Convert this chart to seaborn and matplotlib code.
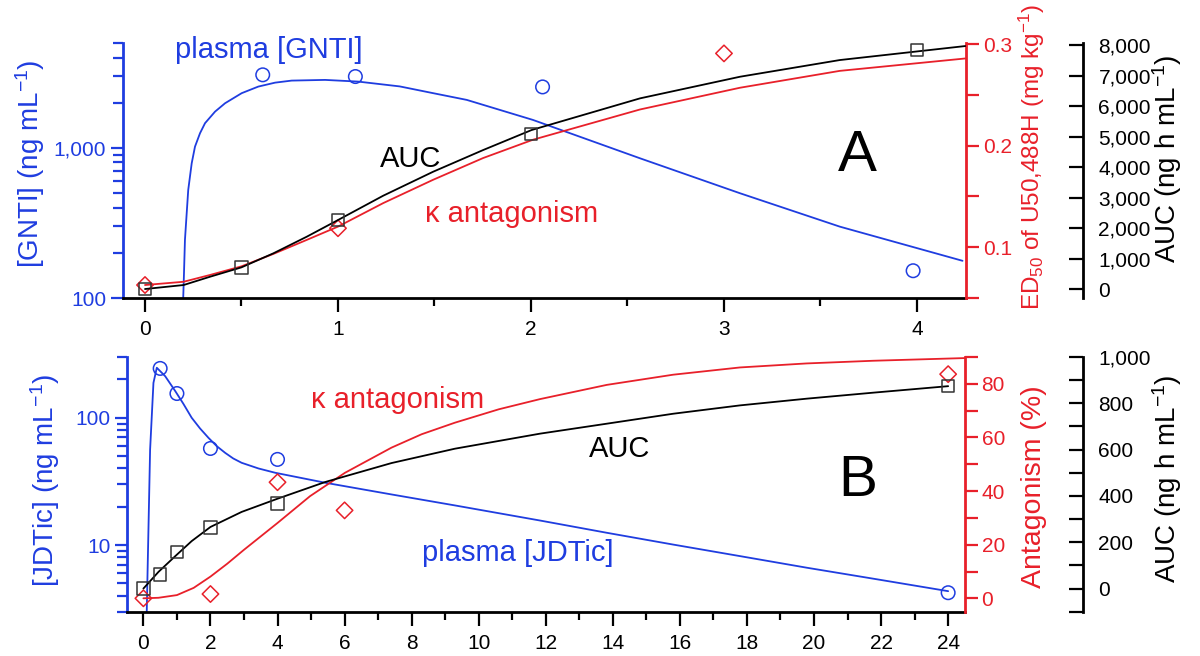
"""Plasma level, AUC and kappa antagonism time courses for GNTI (A) and JDTic (B)"""

import seaborn as sns
import matplotlib.pyplot as plt
from matplotlib.ticker import FixedLocator, FuncFormatter, NullFormatter

BLUE = "#1f3de0"
RED = "#e8202a"
BLACK = "#000000"

# ---- Panel A: GNTI (time in h) ----
gnti_fit_t = [0.198, 0.202, 0.207, 0.216, 0.224, 0.242, 0.259, 0.285, 0.311, 0.363, 0.415, 0.501,
              0.587, 0.674, 0.76, 0.933, 1.105, 1.32, 1.493, 1.667, 2.01, 2.565, 3.083, 3.6, 4.236]
gnti_fit_c = [100, 146, 244, 367, 525, 791, 1020, 1253, 1462, 1746, 1986, 2317,
              2563, 2723, 2810, 2840, 2767, 2570, 2317, 2090, 1537, 853, 499, 299, 177]
gnti_obs_t = [0.61, 1.09, 2.06, 3.98]
gnti_obs_c = [3070, 2990, 2550, 152]

auc_a_fit_t = [0, 0.2, 0.337, 0.5, 0.665, 0.838, 1.0, 1.234, 1.493, 1.752, 2.003, 2.565, 3.083, 3.6, 4.25]
auc_a_fit = [0, 131, 403, 711, 1170, 1715, 2262, 3059, 3846, 4557, 5213, 6252, 6961, 7508, 7967]
auc_a_obs_t = [0, 0.5, 1, 2, 4]
auc_a_obs = [0, 711, 2270, 5082, 7836]

ed50_fit_t = [0, 0.2, 0.337, 0.5, 0.665, 0.838, 1.0, 1.234, 1.493, 1.752, 2.01, 2.565, 3.083, 3.6, 4.25]
ed50_fit = [0.0628, 0.066, 0.0727, 0.0812, 0.0934, 0.1072, 0.1203, 0.1434, 0.1664, 0.1878,
            0.2058, 0.2356, 0.257, 0.2736, 0.2858]
ed50_obs_t = [0, 1, 3]
ed50_obs = [0.0628, 0.1187, 0.2908]

# ---- Panel B: JDTic (time in h) ----
jdtic_fit_t = [0.1, 0.2, 0.3, 0.4, 0.65, 0.95, 1.19, 1.44, 1.69, 1.94, 2.19, 2.44, 2.68, 2.93, 3.43,
               3.93, 5.42, 7.4, 9.29, 11.83, 13.82, 15.8, 17.79, 19.78, 21.77, 24.0]
jdtic_fit_c = [3.0, 56, 188, 247, 212, 162, 129, 100, 82.4, 69.6, 59.8, 53, 47.9, 44.3, 40,
               37, 30.9, 25, 20.5, 15.6, 12.5, 10.1, 8.2, 6.65, 5.45, 4.35]
jdtic_obs_t = [0.5, 1, 2, 4, 24]
jdtic_obs_c = [244, 155, 57.4, 47.1, 4.23]

auc_b_fit_t = [0, 0.45, 0.95, 1.44, 2, 2.93, 4, 5.42, 7.4, 9.29, 11.83, 13.82, 15.8, 17.79, 19.78, 21.77, 24]
auc_b_fit = [0, 72, 140, 205, 266, 331, 388, 460, 542, 604, 669, 712, 755, 791, 820, 846, 874]
auc_b_obs_t = [0, 0.5, 1, 2, 4, 24]
auc_b_obs = [0, 60, 158, 263, 367, 874]

antag_fit_t = [0, 0.45, 1, 1.5, 2, 2.5, 3, 4, 4.97, 6.01, 7.4, 8.3, 9.29, 10.6, 11.83, 13.82, 15.8,
               17.79, 19.78, 21.77, 24.5]
antag_fit = [0, 0.2, 1.2, 3.9, 8.1, 12.9, 18.1, 28.1, 38.1, 46.8, 56.2, 61.2, 65.5, 70.5, 74.3, 79.6, 83.4,
             86.1, 87.6, 88.6, 89.6]
antag_obs_t = [0, 2, 4, 6, 24]
antag_obs = [0, 1.6, 43.3, 32.8, 83.6]

sns.set_theme(style="ticks")
plt.rcParams["font.family"] = ["Liberation Sans", "DejaVu Sans"]
plt.rcParams["mathtext.default"] = "regular"

comma_fmt = FuncFormatter(lambda v, p: f"{v:,.0f}")


def draw_series(ax, fit_t, fit_y, obs_t, obs_y, color, marker, size, edge=None):
    """Fitted curve plus open symbols"""
    sns.lineplot(x=fit_t, y=fit_y, ax=ax, color=color, linewidth=1.3, sort=False, estimator=None)
    sns.scatterplot(x=obs_t, y=obs_y, ax=ax, marker=marker, s=size, facecolor="none",
                    edgecolor=edge or color, linewidth=1.1, zorder=5, clip_on=False)


def style_axes(ax, axr, axk):
    """Spines and ticks of the three y axes"""
    for side in ["top", "right"]:
        ax.spines[side].set_visible(False)
    ax.spines["left"].set_color(BLUE)
    ax.spines["left"].set_linewidth(2)
    ax.spines["bottom"].set_color(BLACK)
    ax.spines["bottom"].set_linewidth(2)
    ax.tick_params(axis="y", which="major", direction="out", length=9, width=1.6, colors=BLUE,
                   labelsize=15, pad=3)
    ax.tick_params(axis="y", which="minor", direction="out", length=7, width=1.6, colors=BLUE)
    ax.tick_params(axis="x", which="major", direction="out", length=10, width=1.6, colors=BLACK,
                   labelsize=15, pad=6)
    ax.tick_params(axis="x", which="minor", direction="out", length=6, width=1.6, colors=BLACK)

    for side in ["top", "left", "bottom"]:
        axr.spines[side].set_visible(False)
        axk.spines[side].set_visible(False)
    axr.spines["right"].set_color(RED)
    axr.spines["right"].set_linewidth(2)
    axr.tick_params(axis="y", which="both", direction="out", length=9, width=1.6, colors=RED,
                    labelsize=15, pad=3)
    axk.spines["right"].set_color(BLACK)
    axk.spines["right"].set_linewidth(2)
    axk.tick_params(axis="y", which="both", direction="in", length=10, width=1.6, colors=BLACK,
                    labelsize=15, pad=11)
    for a in (ax, axr, axk):
        a.set_xlabel("")
        a.set_ylabel("")
        a.grid(False)


fig = plt.figure(figsize=(12, 6.56), dpi=100)

# ---------------- Panel A ----------------
ax_a = fig.add_axes([0.1025, 0.5457, 0.7025, 0.3887])
ax_a.set_yscale("log")
axr_a = ax_a.twinx()
axk_a = ax_a.twinx()
axk_a.spines["right"].set_position(("axes", 1.139))

draw_series(ax_a, gnti_fit_t, gnti_fit_c, gnti_obs_t, gnti_obs_c, BLUE, "o", 95)
draw_series(axr_a, ed50_fit_t, ed50_fit, ed50_obs_t, ed50_obs, RED, "D", 70)
draw_series(axk_a, auc_a_fit_t, auc_a_fit, auc_a_obs_t, auc_a_obs, BLACK, "s", 80, edge="#333333")

ax_a.set_xlim(-0.114, 4.254)
ax_a.set_ylim(100, 5000)
ax_a.xaxis.set_major_locator(FixedLocator([0, 1, 2, 3, 4]))
ax_a.xaxis.set_minor_locator(FixedLocator([0.5, 1.5, 2.5, 3.5]))
ax_a.yaxis.set_major_locator(FixedLocator([100, 1000]))
ax_a.yaxis.set_major_formatter(comma_fmt)
ax_a.yaxis.set_minor_locator(FixedLocator([200, 300, 400, 500, 600, 700, 800, 900, 2000, 3000, 4000, 5000]))
ax_a.yaxis.set_minor_formatter(NullFormatter())

axr_a.set_ylim(0.05, 0.301)
axr_a.set_yticks([0.1, 0.2, 0.3], ["0.1", "0.2", "0.3"])
axr_a.yaxis.set_minor_locator(FixedLocator([0.05, 0.15, 0.25]))

axk_a.set_ylim(-295, 8066)
axk_a.yaxis.set_major_locator(FixedLocator(list(range(0, 8001, 1000))))
axk_a.yaxis.set_major_formatter(comma_fmt)
style_axes(ax_a, axr_a, axk_a)

ax_a.text(0.1732, 0.9725, "plasma [GNTI]", transform=ax_a.transAxes, color=BLUE, fontsize=21,
          ha="center", va="center")
ax_a.text(0.3417, 0.545, "AUC", transform=ax_a.transAxes, color=BLACK, fontsize=21,
          ha="center", va="center")
ax_a.text(0.461, 0.329, "κ antagonism", transform=ax_a.transAxes, color=RED, fontsize=21,
          ha="center", va="center")
ax_a.text(0.871, 0.557, "A", transform=ax_a.transAxes, color=BLACK, fontsize=42,
          ha="center", va="center")

# ---------------- Panel B ----------------
ax_b = fig.add_axes([0.1058, 0.0675, 0.6983, 0.3883])
ax_b.set_yscale("log")
axr_b = ax_b.twinx()
axk_b = ax_b.twinx()
axk_b.spines["right"].set_position(("axes", 1.141))

draw_series(ax_b, jdtic_fit_t, jdtic_fit_c, jdtic_obs_t, jdtic_obs_c, BLUE, "o", 95)
draw_series(axr_b, antag_fit_t, antag_fit, antag_obs_t, antag_obs, RED, "D", 70)
draw_series(axk_b, auc_b_fit_t, auc_b_fit, auc_b_obs_t, auc_b_obs, BLACK, "s", 80, edge="#333333")

ax_b.set_xlim(-0.49, 24.5)
ax_b.set_ylim(3, 300)
ax_b.xaxis.set_major_locator(FixedLocator(list(range(0, 25, 2))))
ax_b.xaxis.set_minor_locator(FixedLocator(list(range(1, 25, 2))))
ax_b.yaxis.set_major_locator(FixedLocator([10, 100]))
ax_b.yaxis.set_major_formatter(comma_fmt)
ax_b.yaxis.set_minor_locator(FixedLocator([3, 4, 5, 6, 7, 8, 9, 20, 30, 40, 50, 60, 70, 80, 90, 200, 300]))
ax_b.yaxis.set_minor_formatter(NullFormatter())

axr_b.set_ylim(-5, 90)
axr_b.yaxis.set_major_locator(FixedLocator([0, 20, 40, 60, 80]))
axr_b.yaxis.set_minor_locator(FixedLocator([10, 30, 50, 70, 90]))

axk_b.set_ylim(-100, 1000)
axk_b.yaxis.set_major_locator(FixedLocator(list(range(0, 1001, 200))))
axk_b.yaxis.set_minor_locator(FixedLocator(list(range(-100, 1000, 200))))
axk_b.yaxis.set_major_formatter(comma_fmt)
style_axes(ax_b, axr_b, axk_b)

ax_b.text(0.3234, 0.831, "κ antagonism", transform=ax_b.transAxes, color=RED, fontsize=21,
          ha="center", va="center")
ax_b.text(0.5875, 0.639, "AUC", transform=ax_b.transAxes, color=BLACK, fontsize=21,
          ha="center", va="center")
ax_b.text(0.872, 0.513, "B", transform=ax_b.transAxes, color=BLACK, fontsize=42,
          ha="center", va="center")
ax_b.text(0.466, 0.23, "plasma [JDTic]", transform=ax_b.transAxes, color=BLUE, fontsize=21,
          ha="center", va="center")

# axis titles
fig.text(0.025, 0.75, "[GNTI] (ng mL$^{-1}$)", rotation=90, color=BLUE, fontsize=20,
         ha="center", va="center")
fig.text(0.86, 0.5274, "ED$_{50}$ of U50,488H (mg kg$^{-1}$)", rotation=90, color=RED, fontsize=17.5,
         ha="center", va="bottom")
fig.text(0.9725, 0.7576, "AUC (ng h mL$^{-1}$)", rotation=90, color=BLACK, fontsize=20,
         ha="center", va="center")
fig.text(0.0375, 0.2683, "[JDTic] (ng mL$^{-1}$)", rotation=90, color=BLUE, fontsize=20,
         ha="center", va="center")
fig.text(0.8617, 0.2576, "Antagonism (%)", rotation=90, color=RED, fontsize=20.5,
         ha="center", va="center")
fig.text(0.9725, 0.2698, "AUC (ng h mL$^{-1}$)", rotation=90, color=BLACK, fontsize=20,
         ha="center", va="center")

fig.savefig("out.png", dpi=100)
